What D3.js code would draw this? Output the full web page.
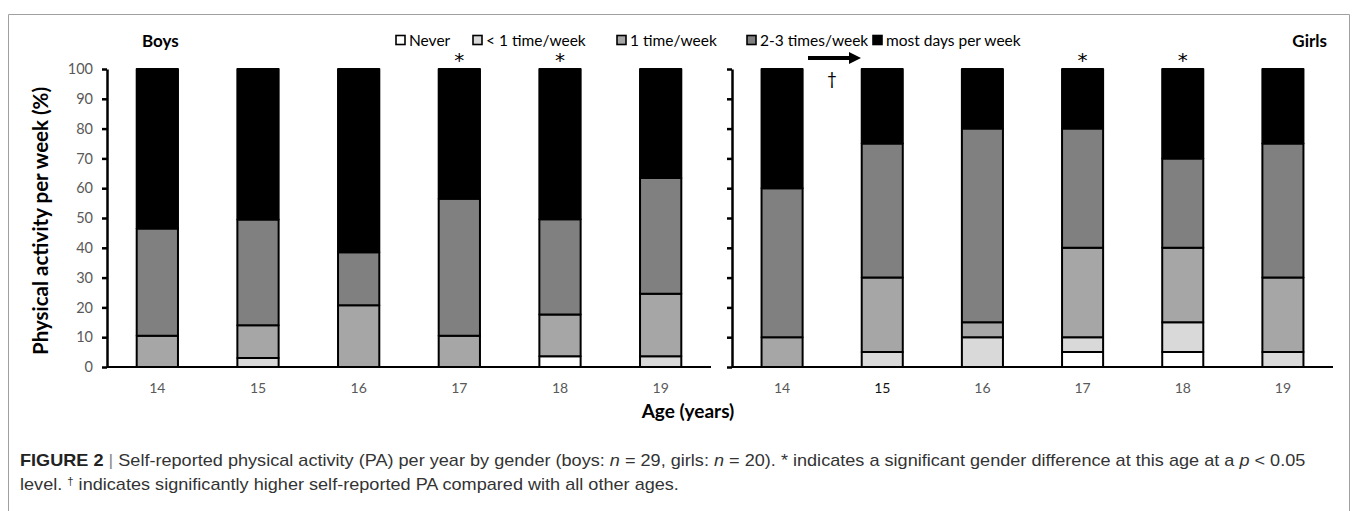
<!DOCTYPE html>
<html>
<head>
<meta charset="utf-8">
<script src="https://cdn.jsdelivr.net/npm/d3@7"></script>
<style>
  body { margin: 0; background: #fff; }
  svg { display: block; }
</style>
</head>
<body>
<div id="chart"></div>
<script>
// categories
var ages = ["14", "15", "16", "17", "18", "19"];
var keys = ["Never", "< 1 time/week", "1 time/week", "2-3 times/week", "most days per week"];
var keyColors = ["#ffffff", "#d9d9d9", "#a6a6a6", "#808080", "#000000"];
var yTicks = [0, 10, 20, 30, 40, 50, 60, 70, 80, 90, 100];

// boys (% per age)
var boysNever = [0, 0, 0, 0, 3.6, 0];
var boysLess1 = [0, 3, 0, 0, 0, 3.6];
var boysOnce  = [10.5, 11, 20.7, 10.5, 14, 21];
var boysTwo3  = [36, 35.5, 17.8, 46, 32, 38.8];
var boysMost  = [53.5, 50.5, 61.5, 43.5, 50.4, 36.6];

// girls (% per age)
var girlsNever = [0, 0, 0, 5, 5, 0];
var girlsLess1 = [0, 5, 10, 5, 10, 5];
var girlsOnce  = [10, 25, 5, 30, 25, 25];
var girlsTwo3  = [50, 45, 65, 40, 30, 45];
var girlsMost  = [40, 25, 20, 20, 30, 25];

// significance marks
var boysStars = ["17", "18"];
var girlsStars = ["17", "18"];

var W = 1357, H = 511;
var svg = d3.select("#chart").append("svg")
    .attr("width", W).attr("height", H)
    .style("font-family", "Lato, 'Open Sans', sans-serif");

svg.append("rect").attr("width", W).attr("height", H).attr("fill", "#fff");

// frame
svg.append("path")
    .attr("d", "M8.5,511 V14.5 H1349.5 V511")
    .attr("fill", "none").attr("stroke", "#a0a0a0").attr("stroke-width", 1);

function makeRows(series) {
  return ages.map(function (a, i) {
    var r = {age: a};
    keys.forEach(function (k, j) { r[k] = series[j][i]; });
    return r;
  });
}

var y = d3.scaleLinear().domain([0, 100]).range([367, 69]);
var color = d3.scaleOrdinal().domain(keys).range(keyColors);
var stack = d3.stack().keys(keys);

function drawPanel(x0, x1, rows, showLabels, stars, boldAge) {
  var x = d3.scaleBand().domain(ages).range([x0, x1])
      .paddingInner(0.59).paddingOuter(0.295);

  var g = svg.append("g");

  // bars
  var layers = g.selectAll(".layer")
      .data(stack(rows))
      .enter().append("g")
      .attr("fill", function (d) { return color(d.key); });

  layers.selectAll("rect")
      .data(function (d) { return d.filter(function (s) { return s[1] - s[0] > 0; }); })
      .enter().append("rect")
      .attr("x", function (d) { return x(d.data.age); })
      .attr("y", function (d) { return y(d[1]); })
      .attr("width", x.bandwidth())
      .attr("height", function (d) { return y(d[0]) - y(d[1]); })
      .attr("stroke", "#000")
      .attr("stroke-width", 2)
      .attr("stroke-linejoin", "round");

  // y axis
  var yAxis = d3.axisLeft(y).tickValues(yTicks)
      .tickSizeInner(5).tickSizeOuter(0).tickPadding(9);
  if (!showLabels) yAxis.tickFormat("");
  var ya = g.append("g").attr("transform", "translate(" + x0 + ",0)").call(yAxis);
  ya.select(".domain").attr("stroke-width", 2.5);
  ya.selectAll(".tick line").attr("stroke-width", 2.5);
  ya.selectAll(".tick text").attr("fill", "#595959")
      .style("font-size", "14.5px").style("font-family", "Lato, sans-serif");

  // x axis line
  g.append("line")
      .attr("x1", x0).attr("x2", x1)
      .attr("y1", y(0)).attr("y2", y(0))
      .attr("stroke", "#000").attr("stroke-width", 2);

  // x labels
  g.selectAll(".xl").data(ages).enter().append("text")
      .attr("x", function (d) { return x(d) + x.bandwidth() / 2; })
      .attr("y", 393)
      .attr("text-anchor", "middle")
      .attr("fill", function (d) { return d === boldAge ? "#111" : "#595959"; })
      .style("font-size", "14px")
      .text(function (d) { return d; });

  // stars
  g.selectAll(".star").data(stars).enter().append("text")
      .attr("x", function (d) { return x(d) + x.bandwidth() / 2; })
      .attr("y", 67)
      .attr("text-anchor", "middle")
      .style("font-family", "'DejaVu Sans', sans-serif")
      .style("font-size", "20px")
      .text("*");

  return x;
}

var boysRows = makeRows([boysNever, boysLess1, boysOnce, boysTwo3, boysMost]);
var girlsRows = makeRows([girlsNever, girlsLess1, girlsOnce, girlsTwo3, girlsMost]);

drawPanel(107, 711, boysRows, true, boysStars, null);
drawPanel(732, 1333, girlsRows, false, girlsStars, "15");

// arrow + dagger between girls 14 and 15
var arrowY = 58;
svg.append("line")
    .attr("x1", 808).attr("x2", 851)
    .attr("y1", arrowY).attr("y2", arrowY)
    .attr("stroke", "#000").attr("stroke-width", 4);
svg.append("path")
    .attr("d", "M849," + (arrowY - 6) + " L861," + arrowY + " L849," + (arrowY + 6) + " Z")
    .attr("fill", "#000");
svg.append("text")
    .attr("x", 832).attr("y", 85)
    .attr("text-anchor", "middle")
    .style("font-size", "17px")
    .text("\u2020");

// titles
svg.append("text").attr("x", 142).attr("y", 47)
    .style("font-size", "17px").style("font-weight", "bold").text("Boys");
svg.append("text").attr("x", 1327).attr("y", 47).attr("text-anchor", "end")
    .style("font-size", "17px").style("font-weight", "bold").text("Girls");

// axis titles
svg.append("text")
    .attr("transform", "translate(48,221) rotate(-90)")
    .attr("text-anchor", "middle")
    .style("font-size", "20.5px").style("font-weight", "bold")
    .text("Physical activity per week (%)");
svg.append("text")
    .attr("x", 688).attr("y", 418)
    .attr("text-anchor", "middle")
    .style("font-size", "19px").style("font-weight", "bold")
    .text("Age (years)");

// legend
var legendX = [396, 473, 617, 747, 873];
var legend = svg.append("g");
keys.forEach(function (k, i) {
  legend.append("rect")
      .attr("x", legendX[i]).attr("y", 35.5)
      .attr("width", 9).attr("height", 9)
      .attr("fill", keyColors[i]).attr("stroke", "#000").attr("stroke-width", 1.6);
  legend.append("text")
      .attr("x", legendX[i] + 13).attr("y", 45.5)
      .style("font-size", "15.5px")
      .text(k);
});

// caption
var cap = svg.append("g").attr("fill", "#333")
    .style("font-family", "'Liberation Sans Narrow', 'Arial Narrow', 'Liberation Sans', sans-serif")
    .style("font-size", "16px");
var l1 = cap.append("text").attr("x", 0).attr("y", 466);
l1.append("tspan").style("font-weight", "bold").attr("fill", "#222").text("FIGURE 2");
l1.append("tspan").attr("fill", "#888").text(" | ");
l1.append("tspan").text("Self-reported physical activity (PA) per year by gender (boys: ");
l1.append("tspan").style("font-style", "italic").text("n");
l1.append("tspan").text(" = 29, girls: ");
l1.append("tspan").style("font-style", "italic").text("n");
l1.append("tspan").text(" = 20). * indicates a significant gender difference at this age at a ");
l1.append("tspan").style("font-style", "italic").text("p");
l1.append("tspan").text(" < 0.05");

var l2 = cap.append("text").attr("x", 0).attr("y", 490);
l2.append("tspan").text("level. ");
l2.append("tspan").attr("dy", -5).style("font-size", "10px").text("\u2020");
l2.append("tspan").attr("dy", 5).text(" indicates significantly higher self-reported PA compared with all other ages.");

var w1 = l1.node().getComputedTextLength();
var sx = (1306 - 20) / w1;
cap.attr("transform", "translate(20,0) scale(" + sx + ",1)");
</script>
</body>
</html>
